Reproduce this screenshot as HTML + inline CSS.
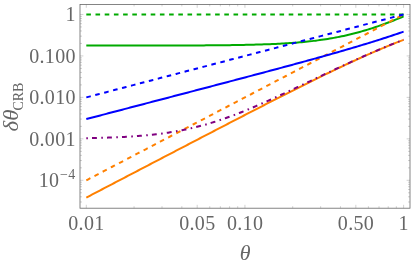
<!DOCTYPE html>
<html><head><meta charset="utf-8"><title>plot</title>
<style>html,body{margin:0;padding:0;background:#fff;}body{width:415px;height:266px;position:relative;overflow:hidden;}</style>
</head><body>
<svg width="415" height="266" viewBox="0 0 415 266" style="position:absolute;left:0;top:0">
<path d="M86.30 208.2 v-3.4 M86.30 4.4 v3.4 M134.06 208.2 v-2.0 M134.06 4.4 v2.0 M162.00 208.2 v-2.0 M162.00 4.4 v2.0 M181.82 208.2 v-2.0 M181.82 4.4 v2.0 M197.19 208.2 v-3.4 M197.19 4.4 v3.4 M209.75 208.2 v-2.0 M209.75 4.4 v2.0 M220.37 208.2 v-2.0 M220.37 4.4 v2.0 M229.58 208.2 v-2.0 M229.58 4.4 v2.0 M237.69 208.2 v-2.0 M237.69 4.4 v2.0 M244.95 208.2 v-3.4 M244.95 4.4 v3.4 M292.71 208.2 v-2.0 M292.71 4.4 v2.0 M320.65 208.2 v-2.0 M320.65 4.4 v2.0 M340.47 208.2 v-2.0 M340.47 4.4 v2.0 M355.84 208.2 v-3.4 M355.84 4.4 v3.4 M368.40 208.2 v-2.0 M368.40 4.4 v2.0 M379.02 208.2 v-2.0 M379.02 4.4 v2.0 M388.23 208.2 v-2.0 M388.23 4.4 v2.0 M396.34 208.2 v-2.0 M396.34 4.4 v2.0 M403.60 208.2 v-3.4 M403.60 4.4 v3.4 M80.0 201.99 h2.0 M410.0 201.99 h-2.0 M80.0 196.81 h2.0 M410.0 196.81 h-2.0 M80.0 192.79 h2.0 M410.0 192.79 h-2.0 M80.0 189.51 h2.0 M410.0 189.51 h-2.0 M80.0 186.73 h2.0 M410.0 186.73 h-2.0 M80.0 184.33 h2.0 M410.0 184.33 h-2.0 M80.0 182.21 h2.0 M410.0 182.21 h-2.0 M80.0 180.31 h3.4 M410.0 180.31 h-3.4 M80.0 167.83 h2.0 M410.0 167.83 h-2.0 M80.0 160.53 h2.0 M410.0 160.53 h-2.0 M80.0 155.35 h2.0 M410.0 155.35 h-2.0 M80.0 151.33 h2.0 M410.0 151.33 h-2.0 M80.0 148.05 h2.0 M410.0 148.05 h-2.0 M80.0 145.27 h2.0 M410.0 145.27 h-2.0 M80.0 142.87 h2.0 M410.0 142.87 h-2.0 M80.0 140.75 h2.0 M410.0 140.75 h-2.0 M80.0 138.85 h3.4 M410.0 138.85 h-3.4 M80.0 126.37 h2.0 M410.0 126.37 h-2.0 M80.0 119.07 h2.0 M410.0 119.07 h-2.0 M80.0 113.89 h2.0 M410.0 113.89 h-2.0 M80.0 109.87 h2.0 M410.0 109.87 h-2.0 M80.0 106.59 h2.0 M410.0 106.59 h-2.0 M80.0 103.81 h2.0 M410.0 103.81 h-2.0 M80.0 101.41 h2.0 M410.0 101.41 h-2.0 M80.0 99.29 h2.0 M410.0 99.29 h-2.0 M80.0 97.39 h3.4 M410.0 97.39 h-3.4 M80.0 84.91 h2.0 M410.0 84.91 h-2.0 M80.0 77.61 h2.0 M410.0 77.61 h-2.0 M80.0 72.43 h2.0 M410.0 72.43 h-2.0 M80.0 68.41 h2.0 M410.0 68.41 h-2.0 M80.0 65.13 h2.0 M410.0 65.13 h-2.0 M80.0 62.35 h2.0 M410.0 62.35 h-2.0 M80.0 59.95 h2.0 M410.0 59.95 h-2.0 M80.0 57.83 h2.0 M410.0 57.83 h-2.0 M80.0 55.93 h3.4 M410.0 55.93 h-3.4 M80.0 43.45 h2.0 M410.0 43.45 h-2.0 M80.0 36.15 h2.0 M410.0 36.15 h-2.0 M80.0 30.97 h2.0 M410.0 30.97 h-2.0 M80.0 26.95 h2.0 M410.0 26.95 h-2.0 M80.0 23.67 h2.0 M410.0 23.67 h-2.0 M80.0 20.89 h2.0 M410.0 20.89 h-2.0 M80.0 18.49 h2.0 M410.0 18.49 h-2.0 M80.0 16.37 h2.0 M410.0 16.37 h-2.0 M80.0 14.47 h3.4 M410.0 14.47 h-3.4" stroke="#666" stroke-width="0.3" fill="none"/>
<g clip-path="none" fill="none" stroke-width="2" stroke-linecap="butt" stroke-linejoin="round">
<path d="M86.30 45.59 L88.30 45.59 L90.29 45.59 L92.29 45.59 L94.28 45.59 L96.28 45.59 L98.27 45.59 L100.27 45.59 L102.26 45.59 L104.26 45.59 L106.26 45.59 L108.25 45.58 L110.25 45.58 L112.24 45.58 L114.24 45.58 L116.23 45.58 L118.23 45.58 L120.23 45.58 L122.22 45.58 L124.22 45.58 L126.21 45.57 L128.21 45.57 L130.20 45.57 L132.20 45.57 L134.19 45.57 L136.19 45.57 L138.19 45.57 L140.18 45.56 L142.18 45.56 L144.17 45.56 L146.17 45.56 L148.16 45.55 L150.16 45.55 L152.15 45.55 L154.15 45.55 L156.15 45.54 L158.14 45.54 L160.14 45.54 L162.13 45.53 L164.13 45.53 L166.12 45.52 L168.12 45.52 L170.12 45.52 L172.11 45.51 L174.11 45.51 L176.10 45.50 L178.10 45.49 L180.09 45.49 L182.09 45.48 L184.08 45.47 L186.08 45.47 L188.08 45.46 L190.07 45.45 L192.07 45.44 L194.06 45.43 L196.06 45.42 L198.05 45.41 L200.05 45.40 L202.04 45.39 L204.04 45.38 L206.04 45.36 L208.03 45.35 L210.03 45.34 L212.02 45.32 L214.02 45.30 L216.01 45.29 L218.01 45.27 L220.01 45.25 L222.00 45.23 L224.00 45.21 L225.99 45.18 L227.99 45.16 L229.98 45.13 L231.98 45.10 L233.97 45.07 L235.97 45.04 L237.97 45.01 L239.96 44.98 L241.96 44.94 L243.95 44.90 L245.95 44.86 L247.94 44.82 L249.94 44.77 L251.93 44.73 L253.93 44.67 L255.93 44.62 L257.92 44.56 L259.92 44.50 L261.91 44.44 L263.91 44.37 L265.90 44.30 L267.90 44.23 L269.89 44.15 L271.89 44.07 L273.89 43.98 L275.88 43.89 L277.88 43.79 L279.87 43.69 L281.87 43.58 L283.86 43.47 L285.86 43.35 L287.86 43.22 L289.85 43.09 L291.85 42.95 L293.84 42.81 L295.84 42.65 L297.83 42.49 L299.83 42.32 L301.82 42.15 L303.82 41.96 L305.82 41.76 L307.81 41.56 L309.81 41.34 L311.80 41.12 L313.80 40.88 L315.79 40.64 L317.79 40.38 L319.78 40.11 L321.78 39.83 L323.78 39.54 L325.77 39.24 L327.77 38.92 L329.76 38.59 L331.76 38.25 L333.75 37.89 L335.75 37.52 L337.75 37.14 L339.74 36.74 L341.74 36.33 L343.73 35.90 L345.73 35.46 L347.72 35.00 L349.72 34.53 L351.71 34.04 L353.71 33.54 L355.71 33.03 L357.70 32.50 L359.70 31.95 L361.69 31.39 L363.69 30.81 L365.68 30.22 L367.68 29.61 L369.67 28.99 L371.67 28.36 L373.67 27.71 L375.66 27.04 L377.66 26.36 L379.65 25.67 L381.65 24.97 L383.64 24.25 L385.64 23.52 L387.64 22.78 L389.63 22.02 L391.63 21.25 L393.62 20.47 L395.62 19.68 L397.61 18.88 L399.61 18.07 L401.60 17.25 L403.60 16.42" stroke="#00aa00"/>
<path d="M86.30 14.47 L88.30 14.47 L90.29 14.47 L92.29 14.47 L94.28 14.47 L96.28 14.47 L98.27 14.47 L100.27 14.47 L102.26 14.47 L104.26 14.47 L106.26 14.47 L108.25 14.47 L110.25 14.47 L112.24 14.47 L114.24 14.47 L116.23 14.47 L118.23 14.47 L120.23 14.47 L122.22 14.47 L124.22 14.47 L126.21 14.47 L128.21 14.47 L130.20 14.47 L132.20 14.47 L134.19 14.47 L136.19 14.47 L138.19 14.47 L140.18 14.47 L142.18 14.47 L144.17 14.47 L146.17 14.47 L148.16 14.47 L150.16 14.47 L152.15 14.47 L154.15 14.47 L156.15 14.47 L158.14 14.47 L160.14 14.47 L162.13 14.47 L164.13 14.47 L166.12 14.47 L168.12 14.47 L170.12 14.47 L172.11 14.47 L174.11 14.47 L176.10 14.47 L178.10 14.47 L180.09 14.47 L182.09 14.47 L184.08 14.47 L186.08 14.47 L188.08 14.47 L190.07 14.47 L192.07 14.47 L194.06 14.47 L196.06 14.47 L198.05 14.47 L200.05 14.47 L202.04 14.47 L204.04 14.47 L206.04 14.47 L208.03 14.47 L210.03 14.47 L212.02 14.47 L214.02 14.47 L216.01 14.47 L218.01 14.47 L220.01 14.47 L222.00 14.47 L224.00 14.47 L225.99 14.47 L227.99 14.47 L229.98 14.47 L231.98 14.47 L233.97 14.47 L235.97 14.47 L237.97 14.47 L239.96 14.47 L241.96 14.47 L243.95 14.47 L245.95 14.47 L247.94 14.47 L249.94 14.47 L251.93 14.47 L253.93 14.47 L255.93 14.47 L257.92 14.47 L259.92 14.47 L261.91 14.47 L263.91 14.47 L265.90 14.47 L267.90 14.47 L269.89 14.47 L271.89 14.47 L273.89 14.47 L275.88 14.47 L277.88 14.47 L279.87 14.47 L281.87 14.47 L283.86 14.47 L285.86 14.47 L287.86 14.47 L289.85 14.47 L291.85 14.47 L293.84 14.47 L295.84 14.47 L297.83 14.47 L299.83 14.47 L301.82 14.47 L303.82 14.47 L305.82 14.47 L307.81 14.47 L309.81 14.47 L311.80 14.47 L313.80 14.47 L315.79 14.47 L317.79 14.47 L319.78 14.47 L321.78 14.47 L323.78 14.47 L325.77 14.47 L327.77 14.47 L329.76 14.47 L331.76 14.47 L333.75 14.47 L335.75 14.47 L337.75 14.47 L339.74 14.47 L341.74 14.47 L343.73 14.47 L345.73 14.47 L347.72 14.47 L349.72 14.47 L351.71 14.47 L353.71 14.47 L355.71 14.47 L357.70 14.47 L359.70 14.47 L361.69 14.47 L363.69 14.47 L365.68 14.47 L367.68 14.47 L369.67 14.47 L371.67 14.47 L373.67 14.47 L375.66 14.47 L377.66 14.47 L379.65 14.47 L381.65 14.47 L383.64 14.47 L385.64 14.47 L387.64 14.47 L389.63 14.47 L391.63 14.47 L393.62 14.47 L395.62 14.47 L397.61 14.47 L399.61 14.47 L401.60 14.47 L403.60 14.47" stroke="#00aa00" stroke-dasharray="4.6 4.6"/>
<path d="M86.30 197.60 L88.30 196.56 L90.29 195.52 L92.29 194.47 L94.28 193.43 L96.28 192.39 L98.27 191.35 L100.27 190.30 L102.26 189.26 L104.26 188.22 L106.26 187.18 L108.25 186.13 L110.25 185.09 L112.24 184.05 L114.24 183.01 L116.23 181.96 L118.23 180.92 L120.23 179.88 L122.22 178.84 L124.22 177.80 L126.21 176.75 L128.21 175.71 L130.20 174.67 L132.20 173.63 L134.19 172.59 L136.19 171.55 L138.19 170.50 L140.18 169.46 L142.18 168.42 L144.17 167.38 L146.17 166.34 L148.16 165.30 L150.16 164.25 L152.15 163.21 L154.15 162.17 L156.15 161.13 L158.14 160.09 L160.14 159.05 L162.13 158.01 L164.13 156.97 L166.12 155.93 L168.12 154.89 L170.12 153.85 L172.11 152.81 L174.11 151.77 L176.10 150.73 L178.10 149.69 L180.09 148.65 L182.09 147.61 L184.08 146.57 L186.08 145.53 L188.08 144.49 L190.07 143.45 L192.07 142.41 L194.06 141.37 L196.06 140.34 L198.05 139.30 L200.05 138.26 L202.04 137.22 L204.04 136.18 L206.04 135.15 L208.03 134.11 L210.03 133.07 L212.02 132.04 L214.02 131.00 L216.01 129.97 L218.01 128.93 L220.01 127.89 L222.00 126.86 L224.00 125.83 L225.99 124.79 L227.99 123.76 L229.98 122.72 L231.98 121.69 L233.97 120.66 L235.97 119.63 L237.97 118.60 L239.96 117.57 L241.96 116.54 L243.95 115.51 L245.95 114.48 L247.94 113.45 L249.94 112.42 L251.93 111.39 L253.93 110.37 L255.93 109.34 L257.92 108.31 L259.92 107.29 L261.91 106.27 L263.91 105.24 L265.90 104.22 L267.90 103.20 L269.89 102.18 L271.89 101.16 L273.89 100.14 L275.88 99.13 L277.88 98.11 L279.87 97.10 L281.87 96.08 L283.86 95.07 L285.86 94.06 L287.86 93.05 L289.85 92.04 L291.85 91.03 L293.84 90.03 L295.84 89.03 L297.83 88.02 L299.83 87.02 L301.82 86.03 L303.82 85.03 L305.82 84.03 L307.81 83.04 L309.81 82.05 L311.80 81.06 L313.80 80.08 L315.79 79.09 L317.79 78.11 L319.78 77.13 L321.78 76.16 L323.78 75.18 L325.77 74.21 L327.77 73.24 L329.76 72.28 L331.76 71.32 L333.75 70.36 L335.75 69.40 L337.75 68.45 L339.74 67.51 L341.74 66.56 L343.73 65.62 L345.73 64.68 L347.72 63.75 L349.72 62.82 L351.71 61.90 L353.71 60.98 L355.71 60.06 L357.70 59.15 L359.70 58.25 L361.69 57.35 L363.69 56.45 L365.68 55.56 L367.68 54.68 L369.67 53.80 L371.67 52.93 L373.67 52.06 L375.66 51.20 L377.66 50.34 L379.65 49.49 L381.65 48.65 L383.64 47.81 L385.64 46.98 L387.64 46.16 L389.63 45.34 L391.63 44.54 L393.62 43.73 L395.62 42.94 L397.61 42.15 L399.61 41.37 L401.60 40.60 L403.60 39.84" stroke="#ff8000"/>
<path d="M86.30 180.31 L88.30 179.27 L90.29 178.22 L92.29 177.18 L94.28 176.14 L96.28 175.09 L98.27 174.05 L100.27 173.01 L102.26 171.97 L104.26 170.92 L106.26 169.88 L108.25 168.84 L110.25 167.79 L112.24 166.75 L114.24 165.71 L116.23 164.66 L118.23 163.62 L120.23 162.58 L122.22 161.54 L124.22 160.49 L126.21 159.45 L128.21 158.41 L130.20 157.36 L132.20 156.32 L134.19 155.28 L136.19 154.23 L138.19 153.19 L140.18 152.15 L142.18 151.11 L144.17 150.06 L146.17 149.02 L148.16 147.98 L150.16 146.93 L152.15 145.89 L154.15 144.85 L156.15 143.80 L158.14 142.76 L160.14 141.72 L162.13 140.68 L164.13 139.63 L166.12 138.59 L168.12 137.55 L170.12 136.50 L172.11 135.46 L174.11 134.42 L176.10 133.37 L178.10 132.33 L180.09 131.29 L182.09 130.25 L184.08 129.20 L186.08 128.16 L188.08 127.12 L190.07 126.07 L192.07 125.03 L194.06 123.99 L196.06 122.94 L198.05 121.90 L200.05 120.86 L202.04 119.81 L204.04 118.77 L206.04 117.73 L208.03 116.69 L210.03 115.64 L212.02 114.60 L214.02 113.56 L216.01 112.51 L218.01 111.47 L220.01 110.43 L222.00 109.38 L224.00 108.34 L225.99 107.30 L227.99 106.26 L229.98 105.21 L231.98 104.17 L233.97 103.13 L235.97 102.08 L237.97 101.04 L239.96 100.00 L241.96 98.95 L243.95 97.91 L245.95 96.87 L247.94 95.83 L249.94 94.78 L251.93 93.74 L253.93 92.70 L255.93 91.65 L257.92 90.61 L259.92 89.57 L261.91 88.52 L263.91 87.48 L265.90 86.44 L267.90 85.40 L269.89 84.35 L271.89 83.31 L273.89 82.27 L275.88 81.22 L277.88 80.18 L279.87 79.14 L281.87 78.09 L283.86 77.05 L285.86 76.01 L287.86 74.97 L289.85 73.92 L291.85 72.88 L293.84 71.84 L295.84 70.79 L297.83 69.75 L299.83 68.71 L301.82 67.66 L303.82 66.62 L305.82 65.58 L307.81 64.53 L309.81 63.49 L311.80 62.45 L313.80 61.41 L315.79 60.36 L317.79 59.32 L319.78 58.28 L321.78 57.23 L323.78 56.19 L325.77 55.15 L327.77 54.10 L329.76 53.06 L331.76 52.02 L333.75 50.98 L335.75 49.93 L337.75 48.89 L339.74 47.85 L341.74 46.80 L343.73 45.76 L345.73 44.72 L347.72 43.67 L349.72 42.63 L351.71 41.59 L353.71 40.55 L355.71 39.50 L357.70 38.46 L359.70 37.42 L361.69 36.37 L363.69 35.33 L365.68 34.29 L367.68 33.24 L369.67 32.20 L371.67 31.16 L373.67 30.12 L375.66 29.07 L377.66 28.03 L379.65 26.99 L381.65 25.94 L383.64 24.90 L385.64 23.86 L387.64 22.81 L389.63 21.77 L391.63 20.73 L393.62 19.69 L395.62 18.64 L397.61 17.60 L399.61 16.56 L401.60 15.51 L403.60 14.47" stroke="#ff8000" stroke-dasharray="4.617 4.617"/>
<path d="M86.30 119.06 L88.30 118.54 L90.29 118.02 L92.29 117.50 L94.28 116.98 L96.28 116.45 L98.27 115.93 L100.27 115.41 L102.26 114.89 L104.26 114.37 L106.26 113.85 L108.25 113.32 L110.25 112.80 L112.24 112.28 L114.24 111.76 L116.23 111.24 L118.23 110.71 L120.23 110.19 L122.22 109.67 L124.22 109.15 L126.21 108.63 L128.21 108.10 L130.20 107.58 L132.20 107.06 L134.19 106.54 L136.19 106.02 L138.19 105.49 L140.18 104.97 L142.18 104.45 L144.17 103.93 L146.17 103.40 L148.16 102.88 L150.16 102.36 L152.15 101.84 L154.15 101.31 L156.15 100.79 L158.14 100.27 L160.14 99.75 L162.13 99.22 L164.13 98.70 L166.12 98.18 L168.12 97.66 L170.12 97.13 L172.11 96.61 L174.11 96.09 L176.10 95.56 L178.10 95.04 L180.09 94.52 L182.09 93.99 L184.08 93.47 L186.08 92.95 L188.08 92.42 L190.07 91.90 L192.07 91.38 L194.06 90.85 L196.06 90.33 L198.05 89.81 L200.05 89.28 L202.04 88.76 L204.04 88.23 L206.04 87.71 L208.03 87.18 L210.03 86.66 L212.02 86.13 L214.02 85.61 L216.01 85.08 L218.01 84.56 L220.01 84.03 L222.00 83.51 L224.00 82.98 L225.99 82.46 L227.99 81.93 L229.98 81.40 L231.98 80.88 L233.97 80.35 L235.97 79.82 L237.97 79.30 L239.96 78.77 L241.96 78.24 L243.95 77.71 L245.95 77.18 L247.94 76.65 L249.94 76.13 L251.93 75.60 L253.93 75.07 L255.93 74.54 L257.92 74.01 L259.92 73.47 L261.91 72.94 L263.91 72.41 L265.90 71.88 L267.90 71.35 L269.89 70.81 L271.89 70.28 L273.89 69.75 L275.88 69.21 L277.88 68.68 L279.87 68.14 L281.87 67.60 L283.86 67.07 L285.86 66.53 L287.86 65.99 L289.85 65.45 L291.85 64.91 L293.84 64.37 L295.84 63.83 L297.83 63.28 L299.83 62.74 L301.82 62.20 L303.82 61.65 L305.82 61.10 L307.81 60.56 L309.81 60.01 L311.80 59.46 L313.80 58.91 L315.79 58.35 L317.79 57.80 L319.78 57.25 L321.78 56.69 L323.78 56.13 L325.77 55.57 L327.77 55.01 L329.76 54.45 L331.76 53.88 L333.75 53.32 L335.75 52.75 L337.75 52.18 L339.74 51.61 L341.74 51.03 L343.73 50.46 L345.73 49.88 L347.72 49.30 L349.72 48.71 L351.71 48.13 L353.71 47.54 L355.71 46.95 L357.70 46.35 L359.70 45.76 L361.69 45.16 L363.69 44.55 L365.68 43.95 L367.68 43.34 L369.67 42.72 L371.67 42.11 L373.67 41.49 L375.66 40.86 L377.66 40.23 L379.65 39.60 L381.65 38.96 L383.64 38.32 L385.64 37.68 L387.64 37.03 L389.63 36.37 L391.63 35.71 L393.62 35.05 L395.62 34.38 L397.61 33.71 L399.61 33.02 L401.60 32.34 L403.60 31.65" stroke="#0000ff"/>
<path d="M86.30 97.39 L88.30 96.87 L90.29 96.35 L92.29 95.83 L94.28 95.30 L96.28 94.78 L98.27 94.26 L100.27 93.74 L102.26 93.22 L104.26 92.70 L106.26 92.17 L108.25 91.65 L110.25 91.13 L112.24 90.61 L114.24 90.09 L116.23 89.57 L118.23 89.05 L120.23 88.52 L122.22 88.00 L124.22 87.48 L126.21 86.96 L128.21 86.44 L130.20 85.92 L132.20 85.40 L134.19 84.87 L136.19 84.35 L138.19 83.83 L140.18 83.31 L142.18 82.79 L144.17 82.27 L146.17 81.74 L148.16 81.22 L150.16 80.70 L152.15 80.18 L154.15 79.66 L156.15 79.14 L158.14 78.62 L160.14 78.09 L162.13 77.57 L164.13 77.05 L166.12 76.53 L168.12 76.01 L170.12 75.49 L172.11 74.97 L174.11 74.44 L176.10 73.92 L178.10 73.40 L180.09 72.88 L182.09 72.36 L184.08 71.84 L186.08 71.31 L188.08 70.79 L190.07 70.27 L192.07 69.75 L194.06 69.23 L196.06 68.71 L198.05 68.19 L200.05 67.66 L202.04 67.14 L204.04 66.62 L206.04 66.10 L208.03 65.58 L210.03 65.06 L212.02 64.53 L214.02 64.01 L216.01 63.49 L218.01 62.97 L220.01 62.45 L222.00 61.93 L224.00 61.41 L225.99 60.88 L227.99 60.36 L229.98 59.84 L231.98 59.32 L233.97 58.80 L235.97 58.28 L237.97 57.76 L239.96 57.23 L241.96 56.71 L243.95 56.19 L245.95 55.67 L247.94 55.15 L249.94 54.63 L251.93 54.10 L253.93 53.58 L255.93 53.06 L257.92 52.54 L259.92 52.02 L261.91 51.50 L263.91 50.98 L265.90 50.45 L267.90 49.93 L269.89 49.41 L271.89 48.89 L273.89 48.37 L275.88 47.85 L277.88 47.33 L279.87 46.80 L281.87 46.28 L283.86 45.76 L285.86 45.24 L287.86 44.72 L289.85 44.20 L291.85 43.67 L293.84 43.15 L295.84 42.63 L297.83 42.11 L299.83 41.59 L301.82 41.07 L303.82 40.55 L305.82 40.02 L307.81 39.50 L309.81 38.98 L311.80 38.46 L313.80 37.94 L315.79 37.42 L317.79 36.89 L319.78 36.37 L321.78 35.85 L323.78 35.33 L325.77 34.81 L327.77 34.29 L329.76 33.77 L331.76 33.24 L333.75 32.72 L335.75 32.20 L337.75 31.68 L339.74 31.16 L341.74 30.64 L343.73 30.12 L345.73 29.59 L347.72 29.07 L349.72 28.55 L351.71 28.03 L353.71 27.51 L355.71 26.99 L357.70 26.46 L359.70 25.94 L361.69 25.42 L363.69 24.90 L365.68 24.38 L367.68 23.86 L369.67 23.34 L371.67 22.81 L373.67 22.29 L375.66 21.77 L377.66 21.25 L379.65 20.73 L381.65 20.21 L383.64 19.69 L385.64 19.16 L387.64 18.64 L389.63 18.12 L391.63 17.60 L393.62 17.08 L395.62 16.56 L397.61 16.03 L399.61 15.51 L401.60 14.99 L403.60 14.47" stroke="#0000ff" stroke-dasharray="4.617 4.617"/>
<path d="M86.30 138.17 L88.30 138.13 L90.29 138.09 L92.29 138.05 L94.28 138.00 L96.28 137.95 L98.27 137.90 L100.27 137.84 L102.26 137.79 L104.26 137.73 L106.26 137.66 L108.25 137.59 L110.25 137.52 L112.24 137.44 L114.24 137.36 L116.23 137.28 L118.23 137.19 L120.23 137.09 L122.22 137.00 L124.22 136.89 L126.21 136.78 L128.21 136.66 L130.20 136.54 L132.20 136.41 L134.19 136.28 L136.19 136.14 L138.19 135.99 L140.18 135.83 L142.18 135.66 L144.17 135.49 L146.17 135.31 L148.16 135.12 L150.16 134.92 L152.15 134.71 L154.15 134.49 L156.15 134.26 L158.14 134.02 L160.14 133.77 L162.13 133.51 L164.13 133.24 L166.12 132.96 L168.12 132.66 L170.12 132.35 L172.11 132.03 L174.11 131.69 L176.10 131.35 L178.10 130.98 L180.09 130.61 L182.09 130.22 L184.08 129.82 L186.08 129.40 L188.08 128.97 L190.07 128.52 L192.07 128.06 L194.06 127.59 L196.06 127.10 L198.05 126.59 L200.05 126.07 L202.04 125.54 L204.04 124.99 L206.04 124.42 L208.03 123.84 L210.03 123.25 L212.02 122.64 L214.02 122.02 L216.01 121.38 L218.01 120.73 L220.01 120.07 L222.00 119.39 L224.00 118.70 L225.99 118.00 L227.99 117.29 L229.98 116.56 L231.98 115.82 L233.97 115.07 L235.97 114.31 L237.97 113.53 L239.96 112.75 L241.96 111.96 L243.95 111.15 L245.95 110.34 L247.94 109.52 L249.94 108.69 L251.93 107.85 L253.93 107.00 L255.93 106.14 L257.92 105.28 L259.92 104.41 L261.91 103.54 L263.91 102.65 L265.90 101.77 L267.90 100.87 L269.89 99.97 L271.89 99.07 L273.89 98.16 L275.88 97.24 L277.88 96.33 L279.87 95.41 L281.87 94.48 L283.86 93.55 L285.86 92.62 L287.86 91.69 L289.85 90.75 L291.85 89.81 L293.84 88.87 L295.84 87.93 L297.83 86.98 L299.83 86.04 L301.82 85.09 L303.82 84.14 L305.82 83.20 L307.81 82.25 L309.81 81.30 L311.80 80.35 L313.80 79.40 L315.79 78.45 L317.79 77.50 L319.78 76.56 L321.78 75.61 L323.78 74.67 L325.77 73.72 L327.77 72.78 L329.76 71.84 L331.76 70.90 L333.75 69.96 L335.75 69.03 L337.75 68.10 L339.74 67.17 L341.74 66.24 L343.73 65.31 L345.73 64.39 L347.72 63.48 L349.72 62.56 L351.71 61.65 L353.71 60.74 L355.71 59.84 L357.70 58.94 L359.70 58.04 L361.69 57.15 L363.69 56.27 L365.68 55.39 L367.68 54.51 L369.67 53.64 L371.67 52.77 L373.67 51.91 L375.66 51.06 L377.66 50.21 L379.65 49.37 L381.65 48.53 L383.64 47.70 L385.64 46.87 L387.64 46.06 L389.63 45.24 L391.63 44.44 L393.62 43.64 L395.62 42.85 L397.61 42.07 L399.61 41.29 L401.60 40.53 L403.60 39.76" stroke="#800080" stroke-dasharray="1.6 4.1 4.9 4.4"/>
</g>
<rect x="80.0" y="4.4" width="330.0" height="203.79999999999998" fill="none" stroke="#666" stroke-width="0.8"/>
<g font-family="Liberation Serif, serif" font-size="20" fill="#666" style="filter:grayscale(1)">
<text x="86.30" y="230.1" text-anchor="middle" letter-spacing="0.35" dx="0.17">0.01</text>
<text x="197.19" y="230.1" text-anchor="middle" letter-spacing="0.35" dx="0.17">0.05</text>
<text x="244.95" y="230.1" text-anchor="middle" letter-spacing="0.35" dx="0.17">0.10</text>
<text x="355.84" y="230.1" text-anchor="middle" letter-spacing="0.35" dx="0.17">0.50</text>
<text x="403.60" y="230.1" text-anchor="middle" letter-spacing="0.35" dx="0.17">1</text>
<text x="75.9" y="21.22" text-anchor="end" letter-spacing="0.35">1</text>
<text x="75.9" y="62.68" text-anchor="end" letter-spacing="0.35">0.100</text>
<text x="75.9" y="104.14" text-anchor="end" letter-spacing="0.35">0.010</text>
<text x="75.9" y="145.60" text-anchor="end" letter-spacing="0.35">0.001</text>
<text x="38.8" y="187.06" letter-spacing="0.3">10<tspan font-size="14" dy="-8" dx="0.6">−4</tspan></text>
<text transform="translate(245.1,259.9) scale(1.1,1)" x="0" y="0" text-anchor="middle" font-style="italic">θ</text>
<g transform="translate(17.9,131.4) rotate(-90)"><text transform="scale(1.14,1)" font-style="italic" x="0" y="0">δθ</text><text transform="translate(20.8,4.9) scale(0.9,1)" font-size="15.5" x="0" y="0">CRB</text></g>
</g>
</svg>
</body></html>
